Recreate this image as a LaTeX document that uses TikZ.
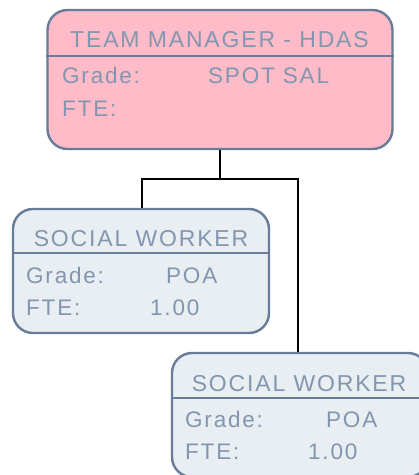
\documentclass[tikz,border=0pt]{standalone}
\usepackage{fontspec}
\setmainfont[LetterSpace=8]{Liberation Sans}
\usepackage{tikz}
\usetikzlibrary{positioning, calc}
\usepackage{xcolor}
\definecolor{edge}{RGB}{104,124,154}
\definecolor{label}{RGB}{130,150,176}
\definecolor{mgrpink}{RGB}{255,187,200}
\definecolor{staffgrey}{RGB}{233,238,242}

\tikzset{
  card/.style={draw=edge, line width=2.4pt, rounded corners=20pt, inner sep=0pt},
  heading/.style={text=label, anchor=base, inner sep=0pt, font=\fontsize{23}{27}\selectfont},
  field/.style={text=label, anchor=base west, inner sep=0pt, font=\fontsize{22.5}{27}\selectfont},
  link/.style={draw=black, line width=2pt}
}

\begin{document}
\begin{tikzpicture}[x=1pt, y=-1pt]
  \useasboundingbox (0,0) rectangle (419,475);
  \clip (0,0) rectangle (419,475);

  % team manager
  \node[card, fill=mgrpink, minimum width=345pt, minimum height=139pt] (mgr) at (220,79.5) {};
  \draw[edge, line width=2.4pt] (mgr.west |- 0,56) -- (mgr.east |- 0,56);
  \node[heading] (mgrtitle) at (219.5,47) {TEAM MANAGER - HDAS};
  \node[field] (mgrgrade) at (62,83) {Grade:};
  \node[field] (mgrgradeval) at (208,83) {SPOT SAL};
  \node[field] (mgrfte) at (62,116) {FTE:};

  % social worker 1
  \node[card, fill=staffgrey, minimum width=256pt, minimum height=124pt] (sw1) at (141,271) {};
  \draw[edge, line width=2.4pt] (sw1.west |- 0,253) -- (sw1.east |- 0,253);
  \node[heading] (sw1title) at (141,246) {SOCIAL WORKER};
  \node[field] (sw1grade) at (26,283) {Grade:};
  \node[field] (sw1gradeval) at (166,283) {POA};
  \node[field] (sw1fte) at (26,315) {FTE:};
  \node[field] (sw1fteval) at (150,315) {1.00};

  % social worker 2
  \node[card, fill=staffgrey, minimum width=256pt, minimum height=124pt] (sw2) at (300,415) {};
  \draw[edge, line width=2.4pt] (sw2.west |- 0,398) -- (sw2.east |- 0,398);
  \node[heading] (sw2title) at (299,391) {SOCIAL WORKER};
  \node[field] (sw2grade) at (185,427) {Grade:};
  \node[field] (sw2gradeval) at (326,427) {POA};
  \node[field] (sw2fte) at (185,459) {FTE:};
  \node[field] (sw2fteval) at (308,459) {1.00};

  % connectors
  \coordinate (split) at (mgr.south |- 0,179);
  \draw[link] (mgr.south) -- (split);
  \draw[link] ([xshift=1pt]sw1.north) |- (split) -| ([xshift=-2pt]sw2.north);
\end{tikzpicture}
\end{document}
